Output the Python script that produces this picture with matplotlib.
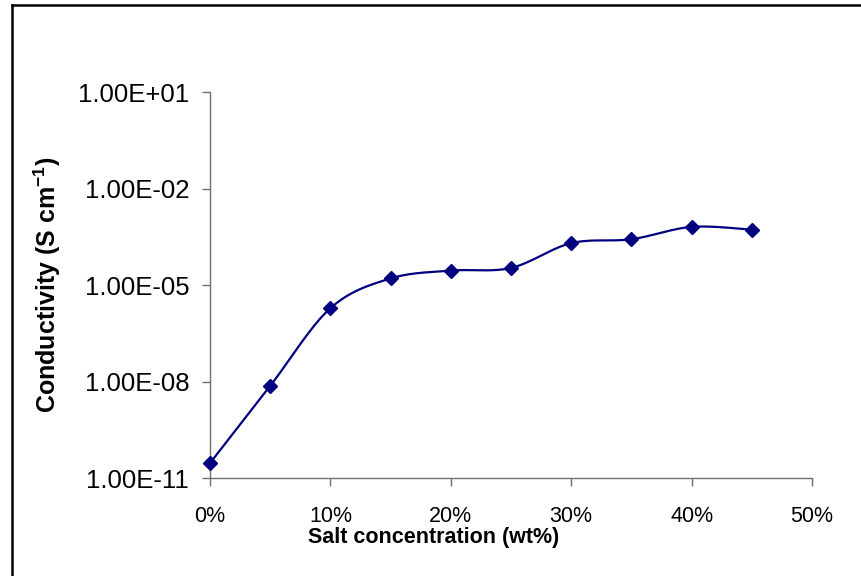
import numpy as np
import matplotlib
matplotlib.use('Agg')
from matplotlib import pyplot as plt
from matplotlib.ticker import FuncFormatter, PercentFormatter
from matplotlib.lines import Line2D

plt.rcParams['font.family'] = ['Liberation Sans', 'DejaVu Sans']
plt.rcParams['mathtext.fontset'] = 'custom'
plt.rcParams['mathtext.rm'] = 'Liberation Sans'
plt.rcParams['mathtext.bf'] = 'Liberation Sans:bold'

salt = [0.00, 0.05, 0.10, 0.15, 0.20, 0.25, 0.30, 0.35, 0.40, 0.45]
conductivity = [2.9e-11, 7.3e-9, 1.9e-6, 1.6e-5, 2.8e-5, 3.4e-5, 2.0e-4, 2.65e-4, 6.4e-4, 5.25e-4]
y_ticks = [1e-11, 1e-8, 1e-5, 1e-2, 1e1]
x_ticks = [0.0, 0.1, 0.2, 0.3, 0.4, 0.5]


def smooth(x, y, n=30):
    # Excel-style smoothed line: Catmull-Rom Bezier in (x, log y)
    p = np.column_stack([x, np.log10(y)])
    ext = np.vstack([p[0], p, p[-1]])
    out = []
    for i in range(len(p) - 1):
        p0, p1, p2, p3 = ext[i], ext[i + 1], ext[i + 2], ext[i + 3]
        c1 = p1 + (p2 - p0) / 6
        c2 = p2 - (p3 - p1) / 6
        t = np.linspace(0, 1, n)[:, None]
        seg = (1 - t)**3 * p1 + 3 * (1 - t)**2 * t * c1 + 3 * (1 - t) * t**2 * c2 + t**3 * p2
        out.append(seg if i == 0 else seg[1:])
    out = np.vstack(out)
    return out[:, 0], 10 ** out[:, 1]


fig = plt.figure(figsize=(8.61, 5.76), dpi=100)
ax = fig.add_axes([210 / 861, 1 - 478 / 576, 602 / 861, 386 / 576])

sx, sy = smooth(salt, conductivity)
ax.plot(sx, sy, color='#000080', lw=1.6, zorder=2)
ax.plot(salt, conductivity, ls='none', marker='D', ms=7, color='#000080',
        mec='#000080', zorder=3, clip_on=False)

ax.set_yscale('log')
ax.set_ylim(1e-11, 1e1)
ax.set_xlim(0, 0.5)
ax.set_yticks(y_ticks)
ax.yaxis.set_minor_locator(matplotlib.ticker.NullLocator())
ax.yaxis.set_major_formatter(FuncFormatter(lambda v, pos: f'{v:.2E}'))
ax.set_xticks(x_ticks)
ax.xaxis.set_major_formatter(PercentFormatter(1.0, decimals=0))

for s in ['top', 'right']:
    ax.spines[s].set_visible(False)
for s in ['left', 'bottom']:
    ax.spines[s].set_color('#707070')
    ax.spines[s].set_linewidth(1.0)

ax.tick_params(axis='y', direction='out', length=6, width=1, color='#707070',
               labelsize=18.5, pad=9)
ax.tick_params(axis='x', direction='out', length=6, width=1, color='#707070',
               labelsize=15.5, pad=14)

ax.set_ylabel(r'Conductivity (S cm$^{\mathbf{-1}}$)', fontsize=18, fontweight='bold')
ax.yaxis.set_label_coords(-0.245, 0.5)
ax.set_xlabel('Salt concentration (wt%)', fontsize=15.5, fontweight='bold', va='center')
ax.xaxis.set_label_coords((434 - 210) / 602, (478 - 538) / 386)

# outer chart border (top and left edges only)
fig.add_artist(Line2D([11.5 / 861, 11.5 / 861], [0, 1 - 4.5 / 576], transform=fig.transFigure,
                      color='black', lw=1.8))
fig.add_artist(Line2D([11.5 / 861, 1], [1 - 4.5 / 576, 1 - 4.5 / 576], transform=fig.transFigure,
                      color='black', lw=1.8))

fig.savefig('out.png', dpi=100)
